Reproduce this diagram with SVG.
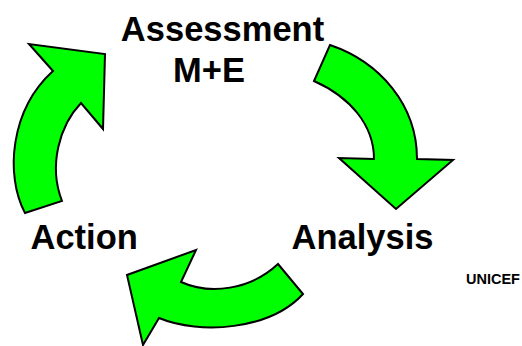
<svg xmlns="http://www.w3.org/2000/svg" width="522" height="346" viewBox="0 0 522 346">
  <style>
    .lbl { font-family: "Liberation Sans", Arial, sans-serif; font-weight: bold; fill: #000; }
    .big { font-size: 34.5px; }
    .small { font-size: 14.5px; }
    .arrow { fill: #00ff00; stroke: #000; stroke-width: 2; stroke-linejoin: miter; }
  </style>
  <rect width="522" height="346" fill="#fff"/>

  <!-- cycle arrows -->
  <g id="connectors">
    <!-- Action -> Assessment -->
    <path class="arrow" d="M25,213 C5,175 10,110 53,71 L29,44 L105,54 L103,129 L81,103 C60,125 48,165 62,201 Z"/>
    <!-- Assessment -> Analysis -->
    <path class="arrow" d="M330,45 C380,62 417,105 417,159 L453,160 L396,209 L339,158 L374,159 C374,125 350,97 314,81 Z"/>
    <!-- Analysis -> Action -->
    <path class="arrow" d="M278,264 L303,294 C270,330 200,335 159,318 L143,345 L127,275 L196,250 L181,282 C210,295 250,290 278,264 Z"/>
  </g>

  <g id="assessment">
    <text class="lbl big" x="222.5" y="40.5" text-anchor="middle">Assessment</text>
    <text class="lbl big" x="209" y="81.5" text-anchor="middle">M+E</text>
  </g>
  <g id="analysis">
    <text class="lbl big" x="291.5" y="248.5">Analysis</text>
  </g>
  <g id="action">
    <text class="lbl big" x="30.5" y="248.5">Action</text>
  </g>
  <g id="credit">
    <text class="lbl small" x="466" y="283.5">UNICEF</text>
  </g>
</svg>
